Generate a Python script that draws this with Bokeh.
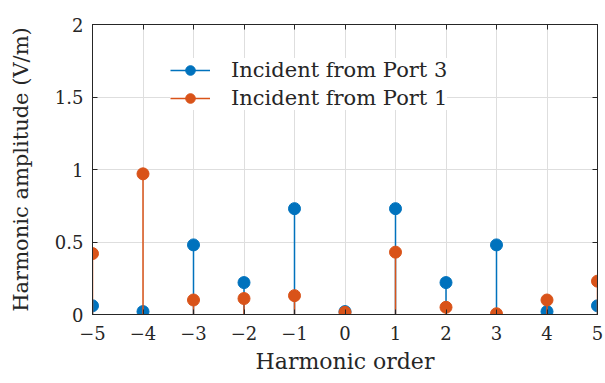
from bokeh.plotting import figure
from bokeh.models import (Range1d, LinearAxis, FixedTicker, Legend, LegendItem,
                          ColumnDataSource)
from bokeh.embed import file_html
from bokeh.resources import INLINE

# ---- data ----
orders = [-5, -4, -3, -2, -1, 0, 1, 2, 3, 4, 5]
port3 = [0.06, 0.02, 0.48, 0.22, 0.73, 0.02, 0.73, 0.22, 0.48, 0.02, 0.06]
port1 = [0.42, 0.97, 0.10, 0.11, 0.13, 0.015, 0.43, 0.05, 0.005, 0.10, 0.23]
zeros = [0.0] * len(orders)

x_ticks = [-5, -4, -3, -2, -1, 0, 1, 2, 3, 4, 5]
x_tick_labels = ["\u22125", "\u22124", "\u22123", "\u22122", "\u22121", "0", "1", "2", "3", "4", "5"]
y_ticks = [0, 0.5, 1, 1.5, 2]
y_tick_labels = ["0", "0.5", "1", "1.5", "2"]

label3 = "Incident from Port 3"
label1 = "Incident from Port 1"
xlabel = "Harmonic order"
ylabel = "Harmonic amplitude (V/m)"

BLUE = "#0072BD"
ORANGE = "#D95319"
AX = "#262626"
FONT = "DejaVu Serif"

p = figure(width=605, height=383, output_backend="svg", toolbar_location=None,
           x_range=Range1d(-5, 5), y_range=Range1d(0, 2),
           min_border_left=92, min_border_right=8, min_border_top=24, min_border_bottom=69)
p.background_fill_color = "white"
p.outline_line_color = AX
p.outline_line_width = 1

src3 = ColumnDataSource(dict(x=orders, y=port3, z=zeros))
src1 = ColumnDataSource(dict(x=orders, y=port1, z=zeros))

s3 = p.segment(x0="x", y0="z", x1="x", y1="y", source=src3, line_color=BLUE, line_width=1.5)
m3 = p.scatter(x="x", y="y", source=src3, size=12, fill_color=BLUE, line_color=BLUE)
s1 = p.segment(x0="x", y0="z", x1="x", y1="y", source=src1, line_color=ORANGE, line_width=1.5)
m1 = p.scatter(x="x", y="y", source=src1, size=12, fill_color=ORANGE, line_color=ORANGE)

# axes
xo = {t: l for t, l in zip(x_ticks, x_tick_labels)}
yo = {t: l for t, l in zip(y_ticks, y_tick_labels)}

for ax in p.xaxis:
    ax.ticker = FixedTicker(ticks=x_ticks)
    ax.major_label_overrides = xo
for ax in p.yaxis:
    ax.ticker = FixedTicker(ticks=y_ticks)
    ax.major_label_overrides = yo

def style(ax):
    ax.axis_line_color = AX
    ax.major_tick_line_color = AX
    ax.major_tick_in = 5
    ax.major_tick_out = 0
    ax.minor_tick_line_color = None
    ax.major_label_text_font = FONT
    ax.major_label_text_font_size = "18px"
    ax.major_label_text_color = AX
    ax.axis_label_text_font = FONT
    ax.axis_label_text_font_size = "21px"
    ax.axis_label_text_font_style = "normal"
    ax.axis_label_text_color = AX

style(p.xaxis[0])
style(p.yaxis[0])
p.xaxis[0].axis_label = xlabel
p.yaxis[0].axis_label = ylabel
p.xaxis[0].axis_label_text_font_size = "22px"
p.xaxis[0].major_label_standoff = 11
p.xaxis[0].axis_label_standoff = 6
p.yaxis[0].major_label_standoff = 9
p.yaxis[0].axis_label_standoff = 19

top = LinearAxis(ticker=FixedTicker(ticks=x_ticks))
right = LinearAxis(ticker=FixedTicker(ticks=y_ticks))
for ax in (top, right):
    style(ax)
    ax.major_label_text_font_size = "1px"
    ax.major_label_text_color = None
    ax.major_label_standoff = 0
p.add_layout(top, "above")
p.add_layout(right, "right")

p.xgrid.ticker = FixedTicker(ticks=x_ticks)
p.ygrid.ticker = FixedTicker(ticks=y_ticks)
p.xgrid.grid_line_color = "#dedede"
p.ygrid.grid_line_color = "#dedede"

legend = Legend(items=[LegendItem(label=label3, renderers=[s3, m3]),
                       LegendItem(label=label1, renderers=[s1, m1])],
                location=(78, 204))
legend.label_text_font = FONT
legend.label_text_font_size = "21px"
legend.label_text_color = AX
legend.glyph_width = 40
legend.glyph_height = 24
legend.label_height = 24
legend.label_standoff = 21
legend.spacing = 4
legend.padding = 4
legend.margin = 0
legend.border_line_color = None
legend.background_fill_color = "white"
legend.background_fill_alpha = 1
p.add_layout(legend, "center")

open("out.html", "w").write(file_html(p, INLINE))
